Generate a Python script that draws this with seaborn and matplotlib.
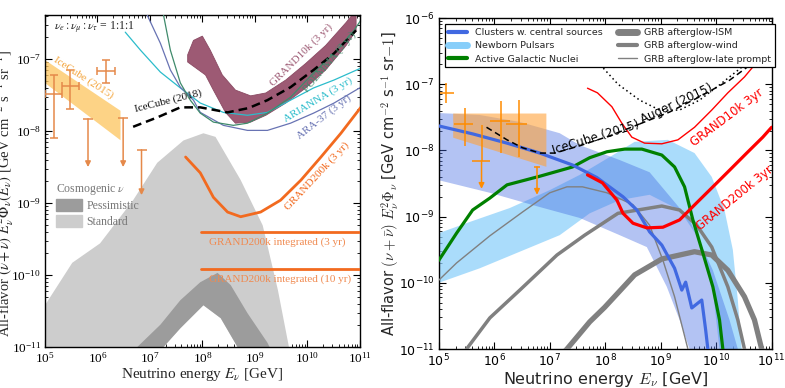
import numpy as np
import matplotlib
matplotlib.use('Agg')
import matplotlib.pyplot as plt
import seaborn as sns
from matplotlib.lines import Line2D
from matplotlib.patches import Patch

sns.set_theme(style='ticks')
plt.rcParams['font.family'] = ['DejaVu Sans']
plt.rcParams['font.serif'] = ['Liberation Serif', 'DejaVu Serif']
plt.rcParams['mathtext.fontset'] = 'dejavusans'

# all values below are log10(E / GeV) and log10(flux / GeV cm-2 s-1 sr-1)

# ---------------- left panel ----------------
# cosmogenic, standard (upper edge, then lower edge going back)
std_up_E = [4.9, 5.0, 5.52, 6.05, 6.68, 7.14, 7.64, 8.02, 8.25, 8.73, 9.15, 9.44, 9.65, 9.78]
std_up_F = [-10.55, -10.42, -9.83, -9.56, -8.96, -8.44, -8.13, -8.03, -8.08, -8.68, -9.31, -10.21, -11.0, -11.46]
std_lo_E = [8.67, 8.35, 8.02, 7.58, 7.26, 7.0, 4.9]
std_lo_F = [-11.0, -10.6, -10.42, -10.74, -11.0, -11.3, -12.0]
# cosmogenic, pessimistic
pes_up_E = [6.6, 6.76, 7.2, 7.58, 7.96, 8.29, 8.54, 8.86, 9.24, 9.40]
pes_up_F = [-11.25, -11.0, -10.69, -10.35, -10.10, -9.97, -10.14, -10.53, -10.94, -11.18]
pes_lo_E = [8.8, 8.67, 8.35, 8.02, 7.58, 7.26, 7.1]
pes_lo_F = [-11.2, -11.0, -10.6, -10.42, -10.74, -11.0, -11.25]

# IceCube 2015 fit band
ic15_E = [5.0, 6.43]
ic15_hi = [-7.01, -7.71]
ic15_lo = [-7.33, -8.12]

# IceCube points (E, Elo, Ehi, F, Flo, Fhi)
pts_E = [5.17, 5.48, 6.17]
pts_Elo = [5.0, 5.33, 5.99]
pts_Ehi = [5.33, 5.65, 6.34]
pts_F = [-7.49, -7.375, -7.17]
pts_Flo = [-8.10, -7.69, -7.33]
pts_Fhi = [-7.22, -7.15, -7.01]
ul_E = [5.82, 6.49, 6.84]
ul_top = [-7.83, -7.82, -8.26]
ul_end = [-8.5, -8.5, -8.89]

ic18_E = [6.68, 7.14, 7.58, 7.96, 8.48, 8.88, 9.24, 9.68, 10.12, 10.51, 10.93]
ic18_F = [-7.94, -7.81, -7.67, -7.67, -7.74, -7.68, -7.57, -7.39, -7.15, -6.92, -6.60]

g10_up_E = [7.72, 7.83, 8.0, 8.15, 8.38, 8.63, 8.92, 9.21, 9.59, 9.97, 10.35, 10.74, 10.93]
g10_up_F = [-6.94, -6.74, -6.68, -6.875, -7.22, -7.43, -7.51, -7.47, -7.29, -7.06, -6.81, -6.49, -6.32]
g10_lo_E = [10.93, 10.74, 10.35, 9.97, 9.59, 9.21, 8.92, 8.63, 8.44, 8.21, 8.06, 7.72]
g10_lo_F = [-6.60, -6.81, -7.15, -7.40, -7.61, -7.78, -7.875, -7.89, -7.74, -7.43, -7.22, -7.04]

poemma_E = [7.26, 7.39, 7.58, 7.77, 7.96, 8.21, 8.59, 8.86, 9.24, 9.68, 10.12, 10.51, 10.89, 11.02]
poemma_F = [-6.39, -6.875, -7.33, -7.57, -7.75, -7.875, -7.92, -7.89, -7.75, -7.53, -7.19, -6.92, -6.60, -6.46]

arianna_E = [6.53, 6.82, 7.2, 7.58, 7.96, 8.40, 8.86, 9.24, 9.68, 10.12, 10.51, 11.02]
arianna_F = [-6.625, -6.875, -7.18, -7.40, -7.61, -7.74, -7.78, -7.74, -7.57, -7.40, -7.29, -7.125]

ara_E = [6.95, 7.2, 7.39, 7.58, 7.83, 7.96, 8.40, 8.86, 9.24, 9.68, 10.12, 10.51, 11.02]
ara_F = [-6.39, -6.78, -7.15, -7.39, -7.57, -7.74, -7.92, -7.99, -7.99, -7.89, -7.75, -7.61, -7.39]

g200_E = [7.68, 7.96, 8.21, 8.48, 8.73, 9.11, 9.49, 9.88, 10.26, 10.64, 11.02]
g200_F = [-8.36, -8.58, -8.92, -9.125, -9.19, -9.125, -8.96, -8.68, -8.36, -8.03, -7.67]

integ_E = [7.98, 11.0]
integ3_F = -9.40
integ10_F = -9.92

# ---------------- right panel ----------------
clb_up_E = [5.0, 5.74, 6.46, 7.18, 7.54, 8.26, 8.80, 9.52, 9.94, 10.24, 10.39, 10.46]
clb_up_F = [-7.435, -7.465, -7.57, -7.74, -7.92, -8.145, -8.33, -9.05, -9.81, -10.56, -11.0, -11.2]
clb_lo_E = [5.0, 5.92, 6.82, 7.54, 8.26, 8.75, 9.11, 9.34, 9.52, 9.61]
clb_lo_F = [-8.45, -8.64, -8.855, -9.02, -9.28, -9.46, -10.06, -10.56, -11.0, -11.2]

cl_E = [5.0, 5.61, 6.23, 6.82, 7.41, 7.85, 8.32, 8.57, 8.80, 9.02, 9.25, 9.38, 9.45, 9.56, 9.74, 9.81, 9.85, 9.86]
cl_F = [-7.63, -7.75, -7.89, -8.04, -8.22, -8.41, -8.70, -8.90, -9.23, -9.43, -9.78, -10.11, -9.99, -10.38, -10.26, -10.71, -11.0, -11.17]

psr_up_E = [5.0, 5.56, 6.28, 7.0, 7.54, 8.08, 8.53, 9.13, 9.61, 9.92, 10.15, 10.30, 10.39, 10.46, 10.50]
psr_up_F = [-9.25, -9.08, -8.87, -8.60, -8.37, -8.10, -7.87, -7.84, -8.04, -8.40, -8.90, -9.50, -10.26, -11.0, -11.2]
psr_lo_E = [5.0, 5.74, 6.46, 7.18, 7.72, 8.26, 8.80, 9.34, 9.70, 9.92, 10.06, 10.10]
psr_lo_F = [-10.0, -9.78, -9.53, -9.28, -8.95, -8.75, -8.67, -8.90, -9.35, -9.96, -11.0, -11.2]

agn_E = [5.0, 5.32, 5.61, 5.92, 6.23, 6.82, 7.41, 7.72, 8.03, 8.35, 8.66, 9.02, 9.25, 9.43, 9.58, 9.76, 9.94, 10.06, 10.12, 10.14]
agn_F = [-9.66, -9.25, -8.90, -8.72, -8.52, -8.39, -8.25, -8.11, -8.02, -7.98, -7.98, -8.07, -8.25, -8.55, -9.05, -9.55, -10.06, -10.56, -11.0, -11.17]

late_E = [5.0, 5.32, 5.92, 6.51, 7.0, 7.31, 7.59, 8.03, 8.50, 8.80, 9.04, 9.25, 9.49, 9.52]
late_F = [-9.96, -9.70, -9.29, -8.93, -8.64, -8.55, -8.55, -8.64, -8.82, -9.13, -9.66, -10.21, -11.0, -11.17]

wind_E = [5.38, 5.50, 5.92, 6.46, 7.13, 7.63, 8.23, 9.02, 9.34, 9.65, 9.92, 10.21, 10.39, 10.51, 10.55]
wind_F = [-11.2, -11.0, -10.53, -10.11, -9.58, -9.28, -8.95, -8.84, -8.90, -9.13, -9.46, -10.06, -10.56, -11.0, -11.17]

ism_E = [7.09, 7.31, 7.72, 7.99, 8.53, 9.02, 9.61, 9.92, 10.21, 10.51, 10.69, 10.82, 10.86]
ism_F = [-11.2, -11.0, -10.59, -10.37, -9.88, -9.64, -9.53, -9.58, -9.81, -10.21, -10.56, -11.0, -11.17]

rg10_E = [7.68, 7.86, 8.12, 8.30, 8.48, 8.71, 9.02, 9.31, 9.61, 9.92, 10.21, 10.51, 10.69, 11.0]
rg10_F = [-7.06, -7.13, -7.34, -7.59, -7.80, -7.89, -7.90, -7.84, -7.65, -7.39, -7.13, -6.89, -6.71, -6.41]

rg200_E = [7.68, 7.95, 8.21, 8.32, 8.50, 8.75, 9.04, 9.34, 9.65, 9.94, 10.24, 10.55, 10.84, 11.0]
rg200_F = [-8.37, -8.49, -8.75, -8.95, -9.10, -9.17, -9.16, -9.05, -8.79, -8.55, -8.30, -8.04, -7.80, -7.65]

ric_E = [5.86, 6.23, 6.51, 6.82, 7.09, 7.54, 8.08, 8.62]
ric_F = [-7.65, -7.84, -7.96, -8.04, -8.04, -7.93, -7.78, -7.60]
aug_E = [8.62, 9.16, 9.70, 10.24, 10.69, 11.0]
aug_F = [-7.60, -7.42, -7.19, -6.94, -6.66, -6.48]
dot_E = [7.72, 7.86, 8.23, 8.62, 8.98, 9.34, 9.70, 10.06, 10.51, 11.0]
dot_F = [-6.48, -6.66, -7.0, -7.24, -7.39, -7.39, -7.24, -7.01, -6.71, -6.36]

box_E = [5.25, 6.93]
box_hi = [-7.435, -7.435]
box_lo = [-7.80, -8.24]

rp_E = [5.13, 5.47, 6.12, 6.44]
rp_Elo = [5.02, 5.27, 5.92, 6.21]
rp_Ehi = [5.27, 5.61, 6.28, 6.59]
rp_F = [-7.13, -7.60, -7.56, -7.60]
rp_Flo = [-7.28, -7.93, -8.04, -8.10]
rp_Fhi = [-6.98, -7.36, -7.25, -7.24]
# point with arrow (value, top of bar, arrow end)
ra_E, ra_Elo, ra_Ehi, ra_F, ra_top, ra_end = 5.77, 5.59, 5.92, -8.16, -7.62, -8.58
rul_E, rul_top, rul_end = 6.77, -8.25, -8.67


def p(a):
    return 10 ** np.asarray(a, dtype=float)


def line(ax, E, F, **kw):
    sns.lineplot(x=p(E), y=p(F), sort=False, estimator=None, ax=ax, **kw)


fig = plt.figure(figsize=(7.85, 3.88), dpi=100)
axL = fig.add_axes([0.0573, 0.1057, 0.401, 0.855])
axR = fig.add_axes([0.559, 0.1005, 0.424, 0.853])

# ================= LEFT =================
ax = axL
ax.set_xscale('log')
ax.set_yscale('log')
ax.fill(p(std_up_E + std_lo_E), p(std_up_F + std_lo_F), color='#cdcdcd', lw=0, zorder=1)
ax.fill(p(pes_up_E + pes_lo_E), p(pes_up_F + pes_lo_F), color='#9c9c9c', lw=0, zorder=1.1)
ax.fill_between(p(ic15_E), p(ic15_lo), p(ic15_hi), color='#fdc55e', alpha=0.75, lw=0, zorder=2)
ax.fill(p(g10_up_E + g10_lo_E), p(g10_up_F + g10_lo_F), facecolor='#9d5a74', edgecolor='#8a4a63', lw=0.6, zorder=2)

line(ax, arianna_E, arianna_F, color='#2bbccb', lw=0.9, zorder=3)
line(ax, ara_E, ara_F, color='#6873b3', lw=0.9, zorder=3)
line(ax, poemma_E, poemma_F, color='#3f8a6b', lw=0.9, zorder=3)
line(ax, ic18_E, ic18_F, color='black', lw=1.8, dashes=(3.5, 2), zorder=4)
line(ax, g200_E, g200_F, color='#f26a1f', lw=2, zorder=4)
for yv in (integ3_F, integ10_F):
    line(ax, integ_E, [yv, yv], color='#f26a1f', lw=2, zorder=4)

ocol = '#e5894a'
ax.errorbar(p(pts_E), p(pts_F),
            xerr=[p(pts_E) - p(pts_Elo), p(pts_Ehi) - p(pts_E)],
            yerr=[p(pts_F) - p(pts_Flo), p(pts_Fhi) - p(pts_F)],
            fmt='none', ecolor=ocol, elinewidth=1.1, capsize=3, capthick=1.1, zorder=5)
for e, t, b in zip(ul_E, ul_top, ul_end):
    ax.annotate('', xy=(p(e), p(b)), xytext=(p(e), p(t)),
                arrowprops=dict(arrowstyle='-|>', color=ocol, lw=1.1, mutation_scale=8, shrinkA=0, shrinkB=0), zorder=5)
    ax.plot([p(e)], [p(t)], marker='_', ms=7, mew=1.1, color=ocol, zorder=5)

ax.set_xlim(1e5, 1e11)
ax.set_ylim(1e-11, 10 ** -6.39)
ax.tick_params(which='both', direction='in', top=True, right=True, labelsize=9.5,
               labelfontfamily='serif', colors='black')
ax.tick_params(which='major', length=5, width=0.8, pad=3)
ax.tick_params(which='minor', length=2.5, width=0.6)
for s in ax.spines.values():
    s.set_linewidth(1.0)
    s.set_color('black')

sf = dict(family='serif', math_fontfamily='stix')
ax.set_xlabel(r'Neutrino energy $E_\nu$ [GeV]', fontsize=11, **sf)
ax.xaxis.set_label_coords(0.5, -0.057)
ax.set_ylabel(r'All-flavor $(\nu+\bar{\nu})\ E_\nu^2\Phi_\nu(E_\nu)$ [GeV cm$^{-2}$ s$^{-1}$ sr$^{-1}$]',
              fontsize=10.5, ha='left', **sf)
ax.yaxis.set_label_coords(-0.093, 0.03)

ax.text(0.03, 0.962, r'$\nu_e:\nu_\mu:\nu_\tau$ = 1:1:1', transform=ax.transAxes, fontsize=8.5,
        ha='left', va='center', color='#222222', **sf)


def tlab(ax, x, y, s, rot, color, size, **kw):
    ax.text(p(x), p(y), s, rotation=rot, rotation_mode='anchor', ha='center', va='center',
            color=color, fontsize=size, zorder=6, **kw)


tlab(ax, 5.73, -7.26, 'IceCube (2015)', -33, '#f4a53c', 8, **sf)
tlab(ax, 7.35, -7.58, 'IceCube (2018)', 14, '#111111', 8, **sf)
tlab(ax, 9.88, -6.94, 'GRAND10k (3 yr)', 45, '#9d5a74', 8, **sf)
tlab(ax, 10.43, -7.04, 'POEMMA (3 yr)', 50, '#3f8a6b', 8, **sf)
tlab(ax, 10.2, -7.57, 'ARIANNA (3 yr)', 31, '#2bbccb', 8, **sf)
tlab(ax, 10.32, -7.81, 'ARA-37 (3 yr)', 38, '#6873b3', 8, **sf)
tlab(ax, 10.18, -8.625, 'GRAND200k (3 yr)', 47, '#f26a1f', 8, **sf)
ax.text(p(8.12), p(-9.54), 'GRAND200k integrated (3 yr)', ha='left', va='center',
        color='#f08a50', fontsize=8, zorder=6, **sf)
ax.text(p(8.12), p(-10.06), 'GRAND200k integrated (10 yr)', ha='left', va='center',
        color='#f08a50', fontsize=8, zorder=6, **sf)

leg = ax.legend(handles=[Patch(color='#9c9c9c', label='Pessimistic'),
                         Patch(color='#cdcdcd', label='Standard')],
                title=r'Cosmogenic $\nu$', loc='upper left', bbox_to_anchor=(0.0, 0.53),
                frameon=False, handlelength=2.2, handleheight=1.2, labelspacing=0.2,
                handletextpad=0.4, alignment='left', labelcolor='#777777',
                prop=dict(family='serif', size=8.5),
                title_fontproperties=dict(family='serif', size=8.5, math_fontfamily='stix'))
leg.get_title().set_color('#777777')
leg.set_zorder(6)

# ================= RIGHT =================
ax = axR
ax.set_xscale('log')
ax.set_yscale('log')
ax.fill(p(psr_up_E + psr_lo_E[::-1]), p(psr_up_F + psr_lo_F[::-1]), color='#87cefa', alpha=0.7, lw=0, zorder=1)
ax.fill(p(clb_up_E + clb_lo_E[::-1]), p(clb_up_F + clb_lo_F[::-1]), color='#4169e1', alpha=0.4, lw=0, zorder=1.1)
ax.fill_between(p(box_E), p(box_lo), p(box_hi), color='#ffa23a', alpha=0.6, lw=0, zorder=2)

line(ax, late_E, late_F, color='#808080', lw=1.0, zorder=3)
line(ax, wind_E, wind_F, color='#808080', lw=2.5, zorder=3)
line(ax, ism_E, ism_F, color='#808080', lw=3.8, zorder=3)
line(ax, agn_E, agn_F, color='#008000', lw=2.3, zorder=3.2)
line(ax, cl_E, cl_F, color='#4169e1', lw=2.3, zorder=3.3)
line(ax, rg10_E, rg10_F, color='#ff0000', lw=1.0, zorder=3.4)
line(ax, rg200_E, rg200_F, color='#ff0000', lw=2.3, zorder=3.4)
line(ax, ric_E, ric_F, color='black', lw=1.1, dashes=(4, 2.5), zorder=3.5)
line(ax, aug_E, aug_F, color='black', lw=1.1, dashes=(4, 2.5), zorder=3.5)
line(ax, dot_E, dot_F, color='black', lw=1.1, dashes=(1, 2), zorder=3.5)

rcol = '#ff8c00'
ax.errorbar(p(rp_E), p(rp_F),
            xerr=[p(rp_E) - p(rp_Elo), p(rp_Ehi) - p(rp_E)],
            yerr=[p(rp_F) - p(rp_Flo), p(rp_Fhi) - p(rp_F)],
            fmt='none', ecolor=rcol, elinewidth=1.1, capsize=0, zorder=5)
ax.errorbar([p(ra_E)], [p(ra_F)], xerr=[[p(ra_E) - p(ra_Elo)], [p(ra_Ehi) - p(ra_E)]],
            yerr=[[0], [p(ra_top) - p(ra_F)]], fmt='none', ecolor=rcol, elinewidth=1.1, capsize=0, zorder=5)
for e, t, b in ((ra_E, ra_F, ra_end), (rul_E, rul_top, rul_end)):
    ax.annotate('', xy=(p(e), p(b)), xytext=(p(e), p(t)),
                arrowprops=dict(arrowstyle='-|>', color=rcol, lw=1.1, mutation_scale=8, shrinkA=0, shrinkB=0), zorder=5)
ax.plot([p(rul_E)], [p(rul_top)], marker='_', ms=5, mew=1.1, color=rcol, zorder=5)

tlab(ax, 7.83, -7.80, 'IceCube (2015)', 17, 'black', 8.5)
tlab(ax, 9.29, -7.30, 'Auger (2015)', 25, 'black', 8.5)
tlab(ax, 10.19, -7.50, 'GRAND10k 3yr', 37, '#ff0000', 8.5)
tlab(ax, 10.33, -8.72, 'GRAND200k 3yr', 39, '#ff0000', 8.5)

ax.set_xlim(1e5, 1e11)
ax.set_ylim(1e-11, 1e-6)
ax.tick_params(which='both', direction='in', top=True, right=True, labelsize=9, colors='black')
ax.tick_params(which='major', length=5, width=0.8, pad=3)
ax.tick_params(which='minor', length=2.5, width=0.6)
for s in ax.spines.values():
    s.set_linewidth(1.0)
    s.set_color('black')
ax.set_xlabel(r'Neutrino energy $E_\nu$ [GeV]', fontsize=11.5, math_fontfamily='cm')
ax.xaxis.set_label_coords(0.5, -0.062)
ax.set_ylabel(r'All-flavor $(\nu+\bar{\nu})\ E_\nu^2\Phi_\nu$ [GeV cm$^{-2}$ s$^{-1}$ sr$-1$]',
              fontsize=10.5, math_fontfamily='cm')
ax.yaxis.set_label_coords(-0.113, 0.5)

hs = [Line2D([], [], color='#4169e1', lw=3, label='Clusters w. central sources'),
      Line2D([], [], color='#87cefa', lw=5, label='Newborn Pulsars'),
      Line2D([], [], color='#008000', lw=3, label='Active Galactic Nuclei'),
      Line2D([], [], color='#808080', lw=5, label='GRB afterglow-ISM'),
      Line2D([], [], color='#808080', lw=3, label='GRB afterglow-wind'),
      Line2D([], [], color='#808080', lw=1, label='GRB afterglow-late prompt')]
lg = ax.legend(handles=hs, ncol=2, loc='upper left', bbox_to_anchor=(0.003, 0.995), fontsize=6.8,
               frameon=True, fancybox=False, edgecolor='black', framealpha=1, columnspacing=1.6,
               handlelength=2.0, handletextpad=0.8, labelspacing=0.45, borderpad=0.4)
lg.get_frame().set_linewidth(0.9)
lg.set_zorder(10)

fig.savefig('out.png', dpi=100)
